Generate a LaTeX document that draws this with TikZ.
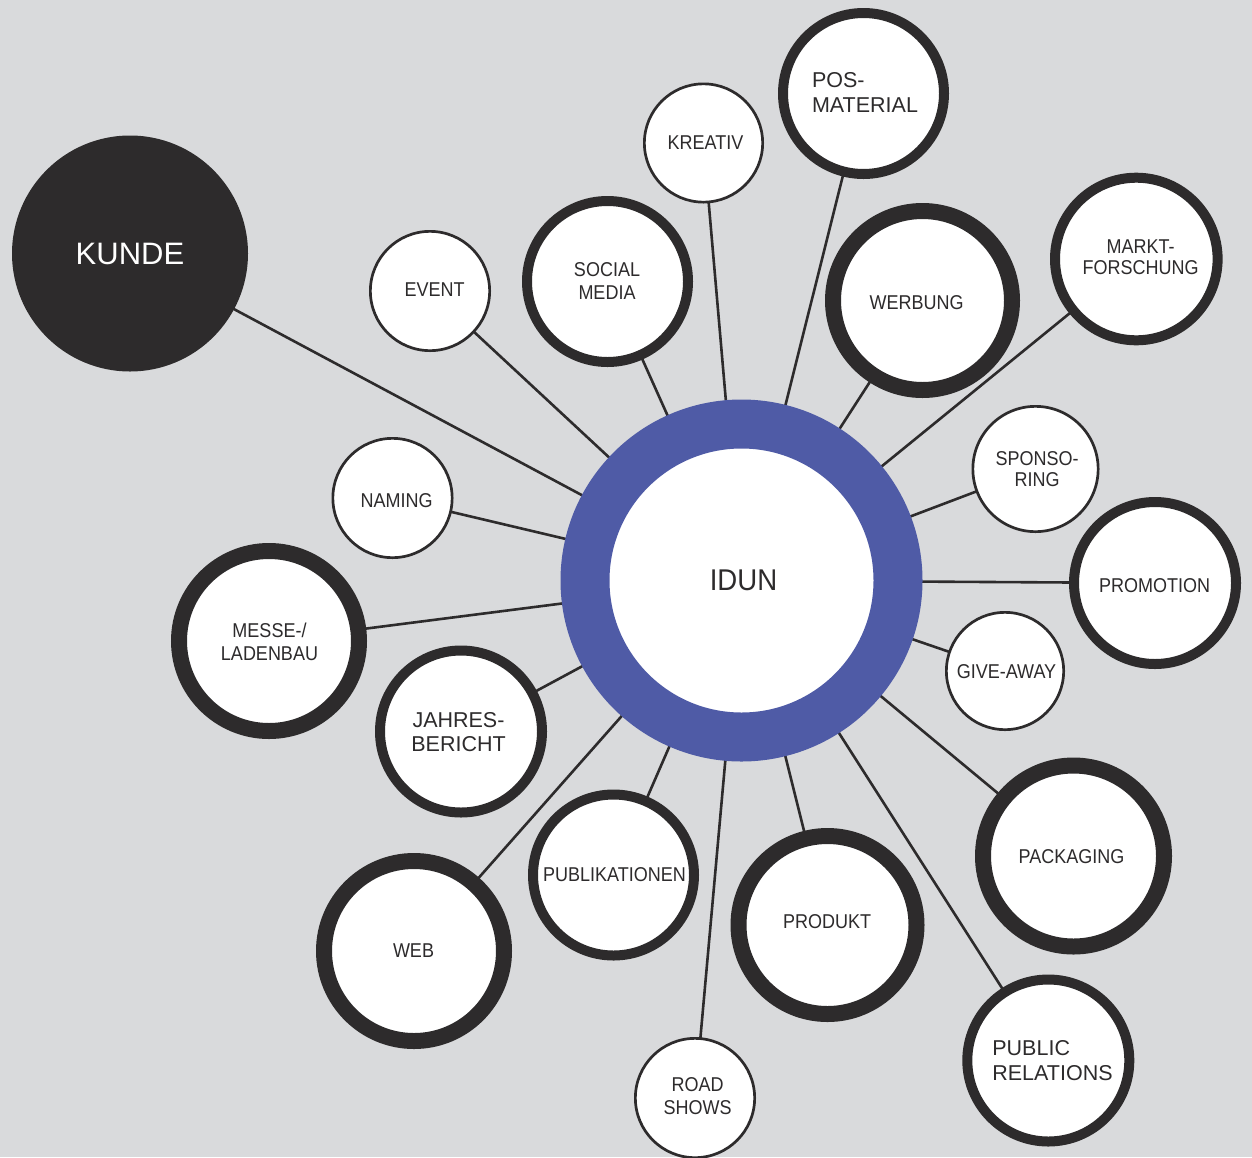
\documentclass[tikz,border=0pt]{standalone}
\usepackage{fontspec}
\setmainfont{Liberation Sans}
\newfontfamily\cond[FakeStretch=0.9]{Liberation Sans}
\newfontfamily\condi[FakeStretch=0.92]{Liberation Sans}
\usetikzlibrary{backgrounds}
\definecolor{bg}{HTML}{D9DADC}
\definecolor{ink}{HTML}{2D2B2C}
\definecolor{idunblue}{HTML}{4F5BA6}
\tikzset{
  sat/.style={circle, draw=ink, fill=white, inner sep=0pt},
  satthin/.style={sat, line width=2.7pt, minimum size={(2*#1-2.7)*1pt}},
  satmid/.style={sat, line width=10pt, minimum size={(2*#1-10)*1pt}},
  satthick/.style={sat, line width=16pt, minimum size={(2*#1-16)*1pt}},
  lab/.style={inner sep=0pt, text=ink, align=center, font=\cond\fontsize{20}{23}\selectfont},
  plainlab/.style={lab, align=left, font=\fontsize{21.5}{24.5}\selectfont},
  tightlab/.style={lab, font=\cond\fontsize{20}{21}\selectfont},
  conn/.style={draw=ink, line width=2.6pt},
}
\begin{document}
\begin{tikzpicture}[x=1pt,y=-1pt]
\useasboundingbox (0,0) rectangle (1252,1157);
% central node
\node[circle, fill=white, draw=idunblue, line width=49pt, minimum size=313pt, inner sep=0pt] (idun) at (741.5,580.5) {};
\node[lab, font=\condi\fontsize{30}{34}\selectfont] (idun-t) at (743.5,580.5) {IDUN};
\node[circle, fill=ink, inner sep=0pt, minimum size=236pt, text=white,
      font=\fontsize{31}{36}\selectfont] (kunde) at (130,253.5) {KUNDE};
% satellites: circles
\node[satthin=61] (event) at (430,291) {};
\node[satmid=85.5] (social) at (607.5,281.5) {};
\node[satthin=60.5] (kreativ) at (703.5,143) {};
\node[satmid=85.5] (pos) at (863.5,93.5) {};
\node[satthick=97.5] (werbung) at (922.5,300.5) {};
\node[satmid=86.3] (markt) at (1136.3,259) {};
\node[satthin=64] (sponso) at (1035.5,469) {};
\node[satmid=86] (promo) at (1155,583) {};
\node[satthin=60] (give) at (1005,671) {};
\node[satthick=98.5] (pack) at (1073.5,856) {};
\node[satmid=86] (pr) at (1048.3,1060.5) {};
\node[satthick=97] (produkt) at (827.5,925) {};
\node[satthin=61] (road) at (695,1098) {};
\node[satmid=85.5] (publik) at (613.5,875) {};
\node[satthick=98] (web) at (414,951) {};
\node[satmid=86] (jahres) at (461,731.5) {};
\node[satthick=98] (messe) at (269,641) {};
\node[satthin=61] (naming) at (392.5,498) {};
% satellites: labels
\node[lab] (event-t) at (434.5,289.5) {EVENT};
\node[lab] (social-t) at (607,281.5) {SOCIAL\\MEDIA};
\node[lab] (kreativ-t) at (705.5,143) {KREATIV};
\node[plainlab] (pos-t) at (865,92.5) {POS-\\MATERIAL};
\node[lab] (werbung-t) at (916.5,303) {WERBUNG};
\node[tightlab] (markt-t) at (1140.5,257.5) {MARKT-\\FORSCHUNG};
\node[tightlab] (sponso-t) at (1037,469.5) {SPONSO-\\RING};
\node[lab] (promo-t) at (1154.5,586) {PROMOTION};
\node[lab] (give-t) at (1006.5,672) {GIVE-AWAY};
\node[lab] (pack-t) at (1071.5,856.5) {PACKAGING};
\node[plainlab] (pr-t) at (1052.5,1060.5) {PUBLIC\\RELATIONS};
\node[lab] (produkt-t) at (827,922) {PRODUKT};
\node[lab] (road-t) at (697.5,1096) {ROAD\\SHOWS};
\node[lab] (publik-t) at (614.5,875) {PUBLIKATIONEN};
\node[lab] (web-t) at (413.5,951) {WEB};
\node[lab, font=\fontsize{21.5}{24}\selectfont] (jahres-t) at (458.5,732.5) {JAHRES-\\BERICHT};
\node[lab] (messe-t) at (269.5,642) {MESSE-/\\LADENBAU};
\node[lab] (naming-t) at (396.5,501) {NAMING};
\begin{scope}[on background layer]
  \fill[bg] (0,0) rectangle (1252,1157);
  \foreach \n in {kunde,event,social,kreativ,pos,werbung,markt,sponso,promo,give,pack,pr,produkt,road,publik,web,jahres,messe,naming}
    \draw[conn] (idun.center) -- (\n.center);
\end{scope}
\end{tikzpicture}
\end{document}
